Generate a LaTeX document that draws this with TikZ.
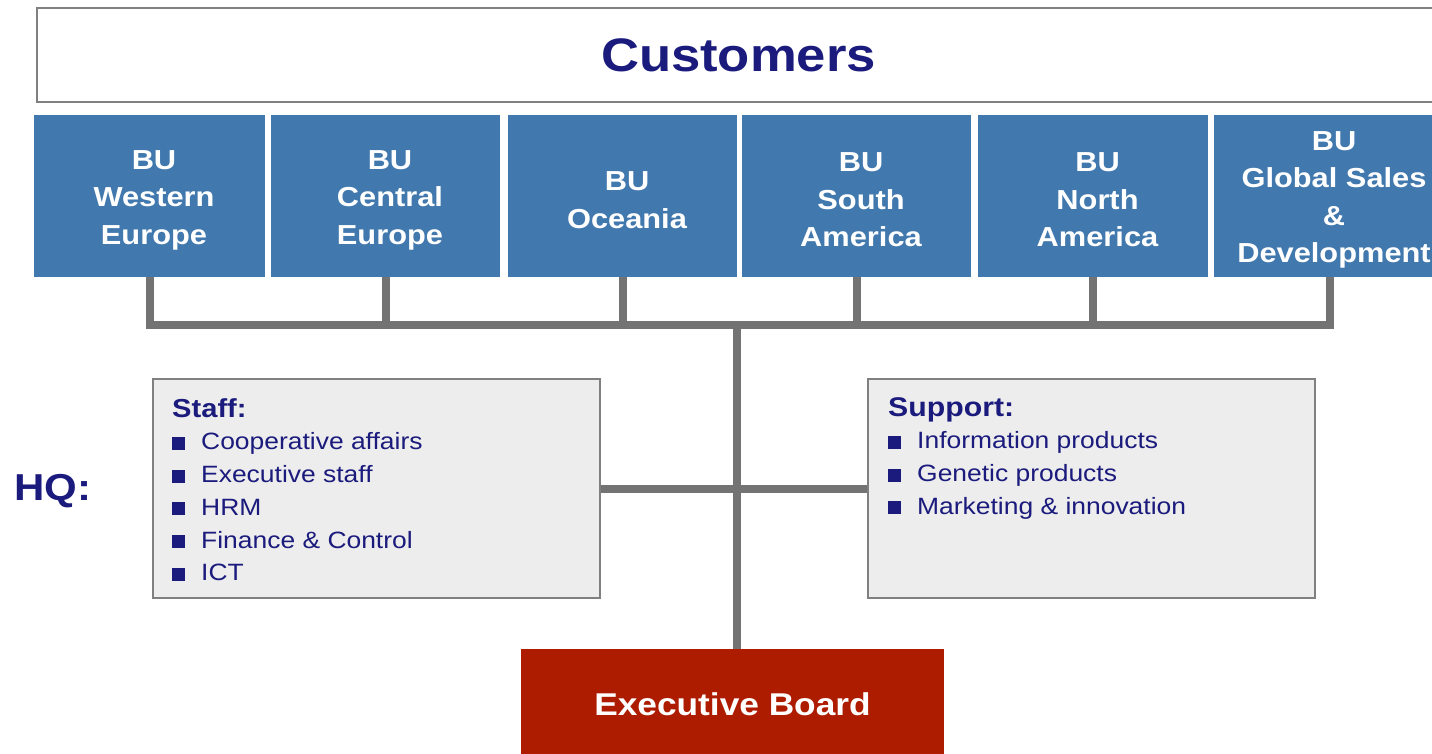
\documentclass[tikz,border=0pt]{standalone}
\usepackage{fontspec}
\setmainfont{Liberation Sans}[FakeStretch=1.12]
\definecolor{navy}{HTML}{1B1B7D}
\definecolor{bublue}{HTML}{4178AD}
\definecolor{boardred}{HTML}{AE1C00}
\definecolor{conngray}{HTML}{737373}
\definecolor{boxgray}{HTML}{EDEDED}
\definecolor{edgegray}{HTML}{808080}
\newcommand\bul{{\color{navy}\rule[0pt]{13pt}{13pt}}\hspace{16pt}}
\begin{document}
\begin{tikzpicture}[x=1pt,y=-1pt,
  bubox/.style={fill=bublue, minimum height=162pt, inner sep=0pt},
  butext/.style={text=white, font=\fontsize{27.5}{37.5}\selectfont\bfseries,
    align=center, inner sep=0pt, xshift=4.5pt, yshift=-4pt},
  hqbox/.style={fill=boxgray, draw=edgegray, line width=1.2pt, minimum width=447pt, minimum height=219pt, inner sep=0pt},
  listtext/.style={anchor=north west, align=left, text=navy, inner sep=0pt,
    font=\fontsize{23.6}{32.75}\selectfont},
  conn/.style={draw=conngray, line width=8pt}]
\useasboundingbox (0,0) rectangle (1432,754);

\node[draw=edgegray, line width=1.5pt, fill=white, minimum width=1403pt, minimum height=94pt,
  text=navy, font=\fontsize{47}{50}\selectfont\bfseries] (cust) at (738.5,55) {Customers};

\node[bubox, minimum width=231pt, label={[butext]center:{BU\\Western\\Europe}}] (bu1) at (149.5,196) {};
\node[bubox, minimum width=229pt, label={[butext]center:{BU\\Central\\Europe}}] (bu2) at (385.5,196) {};
\node[bubox, minimum width=229pt, label={[butext]center:{BU\\Oceania}}] (bu3) at (622.5,196) {};
\node[bubox, minimum width=229pt, label={[butext]center:{BU\\South\\America}}] (bu4) at (856.5,196) {};
\node[bubox, minimum width=230pt, label={[butext]center:{BU\\North\\America}}] (bu5) at (1093,196) {};
\node[bubox, minimum width=231pt, label={[butext]center:{BU\\Global Sales\\\&\\Development}}] (bu6) at (1329.5,196) {};

\coordinate (bus) at (737,325);

\node[hqbox] (staff) at (376.5,488.5) {};
\node[hqbox] (support) at (1091.5,488.5) {};

\node[listtext] (stafftext) at (172,398) {{\fontsize{26}{32.75}\selectfont\bfseries Staff:}\\
  \bul Cooperative affairs\\ \bul Executive staff\\ \bul HRM\\ \bul Finance \& Control\\ \bul ICT};
\node[listtext] (supporttext) at (888,397) {{\fontsize{27}{32.75}\selectfont\bfseries Support:}\\
  \bul Information products\\ \bul Genetic products\\ \bul Marketing \& innovation};

\node[text=navy, font=\fontsize{37.5}{40}\selectfont\bfseries] (hq) at (53,491) {HQ:};

\node[fill=boardred, text=white, minimum width=423pt, minimum height=110pt,
  font=\fontsize{31.5}{34}\selectfont\bfseries] (board) at (732.5,704) {Executive Board};

\draw[conn, line join=miter] (bu1.south) |- (bu6.south |- bus) -- (bu6.south);
\foreach \i in {2,3,4,5} {\draw[conn] (bu\i.south) -- (bu\i.south |- bus);}
\draw[conn] (bus) -- (bus |- board.north);
\draw[conn] (staff.east) -- (support.west);
\end{tikzpicture}
\end{document}
